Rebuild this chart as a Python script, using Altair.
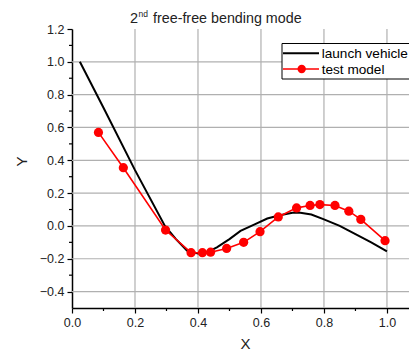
import altair as alt
import pandas as pd

# launch vehicle (black line)
lv_x = [0.025, 0.10, 0.20, 0.295, 0.33, 0.365, 0.40, 0.43, 0.46, 0.50, 0.535, 0.58, 0.62, 0.66, 0.70, 0.72, 0.76, 0.80, 0.85, 0.90, 0.95, 1.00]
lv_y = [1.00, 0.72, 0.34, 0.00, -0.08, -0.15, -0.168, -0.16, -0.13, -0.08, -0.03, 0.01, 0.045, 0.065, 0.08, 0.082, 0.07, 0.04, 0.00, -0.05, -0.10, -0.155]

# test model (red line + circles)
tm_x = [0.084, 0.163, 0.297, 0.378, 0.414, 0.440, 0.491, 0.545, 0.597, 0.655, 0.713, 0.756, 0.787, 0.835, 0.879, 0.917, 0.994]
tm_y = [0.570, 0.355, -0.025, -0.163, -0.163, -0.160, -0.137, -0.100, -0.035, 0.055, 0.110, 0.125, 0.130, 0.125, 0.090, 0.040, -0.090]

x_major = [0.0, 0.2, 0.4, 0.6, 0.8, 1.0]
x_minor = [0.1, 0.3, 0.5, 0.7, 0.9]
y_major = [-0.4, -0.2, 0.0, 0.2, 0.4, 0.6, 0.8, 1.0, 1.2]
y_minor = [-0.3, -0.1, 0.1, 0.3, 0.5, 0.7, 0.9, 1.1]
x_grid = [0.2, 0.4, 0.6, 0.8, 1.0]
y_grid = [-0.4, -0.2, 0.0, 0.2, 0.4, 0.6, 0.8, 1.0]

FONT = "Liberation Sans"
W, H = 337, 279

xs = alt.Scale(domain=[0, 1.07], nice=False, zero=False)
ys = alt.Scale(domain=[-0.5, 1.2], nice=False, zero=False)

lv = pd.DataFrame({"x": lv_x, "y": lv_y})
tm = pd.DataFrame({"x": tm_x, "y": tm_y})

common = dict(format=".1f", grid=False, tickSize=5, tickColor="black",
              domainColor="black", domainWidth=1.5, tickWidth=1.2, labelPadding=3,
              labelFont=FONT, labelFontSize=12.5, labelColor="#222",
              labelOverlap=False, labelFlush=False, labelBound=False,
              titleFont=FONT, titleFontSize=15, titleFontWeight="normal",
              titleBaseline="middle", titleColor="#222")
xaxis = alt.Axis(values=x_major, title="X", titleX=173, titleY=35, **common)
yaxis = alt.Axis(values=y_major, title="Y", titleX=-51, titleY=132, titleAngle=270, **common)


def X(f="x"):
    return alt.X(f + ":Q", scale=xs, axis=xaxis)


def Y(f="y"):
    return alt.Y(f + ":Q", scale=ys, axis=yaxis)


# gridlines
vgrid = alt.Chart(pd.DataFrame({"x": x_grid})).mark_rule(color="#b0b0b0", strokeWidth=1.2).encode(x=X())
hgrid = alt.Chart(pd.DataFrame({"y": y_grid})).mark_rule(color="#b0b0b0", strokeWidth=1.2).encode(y=Y())

# minor ticks
xmin = alt.Chart(pd.DataFrame({"x": x_minor})).mark_rule(color="black", strokeWidth=1.2).encode(
    x=X(), y=alt.value(H), y2=alt.value(H + 3))
ymin = alt.Chart(pd.DataFrame({"y": y_minor})).mark_rule(color="black", strokeWidth=1.2).encode(
    y=Y(), x=alt.value(-3), x2=alt.value(0))

lv_line = alt.Chart(lv).mark_line(color="black", strokeWidth=2).encode(x=X(), y=Y())
tm_line = alt.Chart(tm).mark_line(color="#ff0000", strokeWidth=1.6).encode(x=X(), y=Y())
tm_pts = alt.Chart(tm).mark_circle(color="#ff0000", size=85, opacity=1).encode(x=X(), y=Y())

one = pd.DataFrame({"a": [0]})

# title with superscript
t1 = alt.Chart(one).mark_text(text="2", font=FONT, fontSize=14.5, align="left", baseline="middle", color="#222").encode(
    x=alt.value(58), y=alt.value(-10.5))
t2 = alt.Chart(one).mark_text(text="nd", font=FONT, fontSize=8.5, align="left", baseline="middle", color="#222").encode(
    x=alt.value(66.5), y=alt.value(-15))
t3 = alt.Chart(one).mark_text(text="free-free bending mode", font=FONT, fontSize=14.3, align="left", baseline="middle", color="#222").encode(
    x=alt.value(81), y=alt.value(-10.5))

# legend
box = alt.Chart(one).mark_rect(fill="white", stroke="black", strokeWidth=1).encode(
    x=alt.value(210), x2=alt.value(350), y=alt.value(14.5), y2=alt.value(50))
leg1 = alt.Chart(one).mark_rule(color="black", strokeWidth=2).encode(
    x=alt.value(211), x2=alt.value(247), y=alt.value(24.3))
leg2 = alt.Chart(one).mark_rule(color="#ff0000", strokeWidth=1.6).encode(
    x=alt.value(211), x2=alt.value(247), y=alt.value(40))
leg2p = alt.Chart(one).mark_circle(color="#ff0000", size=70, opacity=1).encode(
    x=alt.value(229.7), y=alt.value(40))
lt1 = alt.Chart(one).mark_text(text="launch vehicle", font=FONT, fontSize=13.6, align="left", baseline="middle", color="black").encode(
    x=alt.value(249.7), y=alt.value(24.8))
lt2 = alt.Chart(one).mark_text(text="test model", font=FONT, fontSize=13.6, align="left", baseline="middle", color="black").encode(
    x=alt.value(249.7), y=alt.value(41))

chart = alt.layer(vgrid, hgrid, xmin, ymin, lv_line, tm_line, tm_pts, t1, t2, t3,
                  box, leg1, leg2, leg2p, lt1, lt2).properties(
    width=W, height=H,
    autosize=alt.AutoSizeParams(type="none"),
    padding={"left": 72, "top": 29, "right": 0, "bottom": 42},
    background="white",
).configure_view(stroke=None)

chart.save("out.html", embed_options={"renderer": "svg", "actions": False})
